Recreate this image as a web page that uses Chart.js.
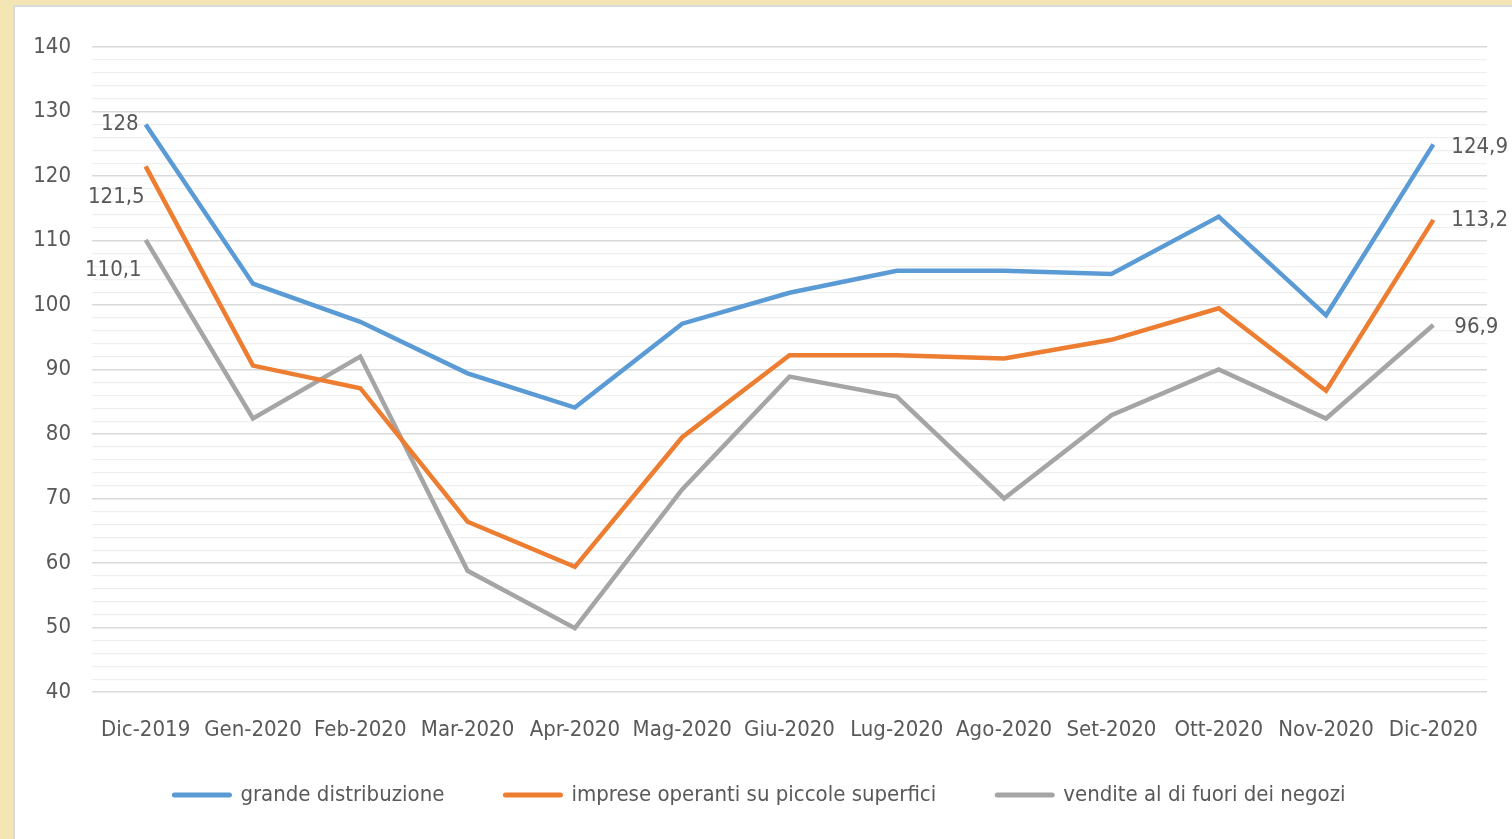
<!DOCTYPE html>
<html>
<head>
<meta charset="utf-8">
<script src="https://cdn.jsdelivr.net/npm/chart.js@4"></script>
<style>
  html, body { margin: 0; padding: 0; background: #f4e6b4; overflow: hidden; }
  #pannello {
    position: absolute; left: 13px; top: 5px; width: 1520px; height: 860px;
    background: #ffffff; border: 2px solid #d9d9d9;
  }
  #grafico { position: absolute; left: 0; top: 0; }
</style>
</head>
<body>
<div id="pannello"></div>
<canvas id="grafico" width="1512" height="839"></canvas>
<script>
// Indici delle vendite al dettaglio, dic 2019 - dic 2020

const mesi = ['Dic-2019', 'Gen-2020', 'Feb-2020', 'Mar-2020', 'Apr-2020', 'Mag-2020',
  'Giu-2020', 'Lug-2020', 'Ago-2020', 'Set-2020', 'Ott-2020', 'Nov-2020', 'Dic-2020'];

const grandeDistribuzione = [128, 103.3, 97.4, 89.4, 84.1, 97.1, 101.9, 105.3, 105.3, 104.8, 113.7, 98.4, 124.9];
const piccoleSuperfici = [121.5, 90.6, 87.1, 66.4, 59.4, 79.5, 92.2, 92.2, 91.7, 94.6, 99.5, 86.7, 113.2];
const fuoriNegozi = [110.1, 82.4, 92.0, 58.8, 49.9, 71.4, 88.9, 85.8, 70.0, 82.9, 90.0, 82.4, 96.9];

const nomiSerie = ['grande distribuzione', 'imprese operanti su piccole superfici', 'vendite al di fuori dei negozi'];
const coloriSerie = ['#5b9bd5', '#ed7d31', '#a5a5a5'];

const FONT = "'Liberation Sans Narrow', 'Arial Narrow', 'DejaVu Sans Condensed', sans-serif";
const GRIGIO_TESTO = '#595959';
const DIM_FONT = 22;

// Etichette solo sul primo e sull'ultimo punto
// [dx, dy, allineamento] per ogni serie
const posInizio = [[-7, 0, 'right'], [-1, 31, 'right'], [-4, 30, 'right']];
const posFine = [[18, 3, 'left'], [18, 0, 'left'], [21, 2, 'left']];

const etichette = {
  id: 'etichette',
  afterDatasetsDraw(chart) {
    const ctx = chart.ctx;
    ctx.save();
    ctx.font = DIM_FONT + 'px ' + FONT;
    ctx.fillStyle = GRIGIO_TESTO;
    ctx.textBaseline = 'middle';
    chart.data.datasets.forEach((ds, i) => {
      const meta = chart.getDatasetMeta(i);
      const ultimo = ds.data.length - 1;
      [[0, posInizio[i]], [ultimo, posFine[i]]].forEach(([idx, pos]) => {
        const p = meta.data[idx];
        ctx.textAlign = pos[2];
        const testo = String(ds.data[idx]).replace('.', ',');
        ctx.fillText(testo, p.x + pos[0], p.y + pos[1]);
      });
    });
    ctx.restore();
  }
};

let grafico = null;

function graficare(canvas) {
  let ctx = canvas.getContext('2d');
  if (grafico) {
    grafico.destroy();
  }

  const serie = [grandeDistribuzione, piccoleSuperfici, fuoriNegozi];

  grafico = new Chart(ctx, {
    type: 'line',
    data: {
      labels: mesi,
      datasets: serie.map((valori, i) => ({
        label: nomiSerie[i],
        data: valori,
        borderColor: coloriSerie[i],
        backgroundColor: coloriSerie[i],
        borderWidth: 4.5,
        pointRadius: 0,
        tension: 0,
        fill: false
      }))
    },
    options: {
      responsive: false,
      animation: false,
      layout: {
        padding: { left: 33, right: 25, top: 47, bottom: 23 }
      },
      scales: {
        x: {
          offset: true,
          // etichette sotto l'asse senza ritaglio, altezza fissa
          afterFit: scala => { scala.height = 31; },
          grid: { display: false, drawTicks: false },
          border: { display: false },
          ticks: {
            mirror: true,
            padding: -51,
            color: GRIGIO_TESTO,
            font: { family: FONT, size: DIM_FONT },
            maxRotation: 0,
            autoSkip: false
          }
        },
        y: {
          min: 40,
          max: 140,
          afterFit: scala => { scala.width = 59; },
          grid: {
            drawTicks: false,
            color: c => (c.tick && c.tick.value % 10 === 0) ? '#d9d9d9' : '#efefef',
            lineWidth: c => (c.tick && c.tick.value % 10 === 0) ? 1.5 : 1.2
          },
          border: { display: false },
          ticks: {
            stepSize: 2,
            autoSkip: false,
            color: GRIGIO_TESTO,
            font: { family: FONT, size: DIM_FONT },
            padding: 21,
            callback: v => (v % 10 === 0 ? v : '')
          }
        }
      },
      plugins: {
        legend: {
          position: 'bottom',
          labels: {
            color: GRIGIO_TESTO,
            font: { family: FONT, size: DIM_FONT },
            usePointStyle: true,
            pointStyle: 'line',
            pointStyleWidth: 55,
            boxHeight: 5,
            padding: 61,
            generateLabels: chart => chart.data.datasets.map((ds, i) => ({
              text: ds.label,
              fillStyle: ds.borderColor,
              strokeStyle: ds.borderColor,
              lineWidth: 5,
              lineCap: 'round',
              pointStyle: 'line',
              fontColor: GRIGIO_TESTO,
              datasetIndex: i
            }))
          }
        },
        tooltip: { enabled: false }
      }
    },
    plugins: [etichette]
  });
}

graficare(document.getElementById('grafico'));
</script>
</body>
</html>
